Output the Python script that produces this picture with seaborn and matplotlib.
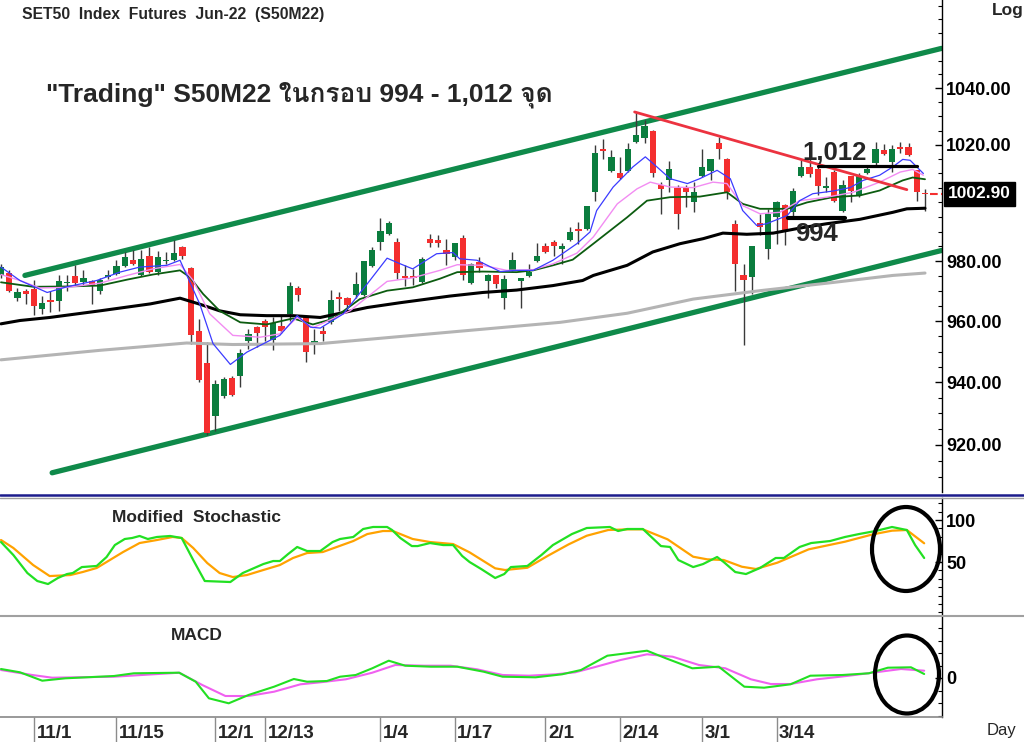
import numpy as np
import matplotlib
matplotlib.use("Agg")
import matplotlib.pyplot as plt
import matplotlib.transforms as mtransforms
import seaborn as sns
from matplotlib import font_manager, ft2font
from matplotlib.lines import Line2D
from matplotlib.patches import Ellipse
from matplotlib.ticker import FixedLocator, FixedFormatter, NullFormatter

# === Candles S50M22 (open, high, low, close), one per trading day ===
opens = [975.2, 976.0, 967.8, 970.1, 970.7, 964.0, 967.0, 966.7, 972.6, 975.1,
         972.9, 973.5, 969.9, 974.8, 975.8, 978.3, 980.3, 975.2, 981.7, 976.3,
         980.0, 980.3, 984.8, 977.6, 956.9, 946.2, 929.2, 935.7, 941.5, 942.0,
         953.6, 958.0, 959.9, 953.9, 958.3, 962.4, 971.0, 961.2, 952.8, 956.6,
         959.8, 967.8, 967.8, 968.7, 968.6, 978.3, 986.5, 989.1, 986.4, 975.1,
         975.1, 972.9, 987.6, 987.3, 983.7, 981.4, 988.0, 972.6, 979.7, 973.5,
         975.2, 967.8, 976.9, 973.3, 974.9, 980.0, 985.2, 986.6, 984.0, 987.0,
         990.8, 990.8, 1003.5, 1018.4, 1010.9, 1010.2, 1010.9, 1021.1, 1022.3, 1024.9,
         1006.1, 1007.9, 1005.1, 1005.3, 1000.0, 1009.0, 1010.9, 1020.5, 1015.1, 992.5,
         975.2, 974.8, 992.9, 984.2, 994.9, 999.2, 996.6, 1009.0, 1012.3, 1011.4,
         1005.1, 1010.5, 997.2, 1009.0, 1002.4, 1010.2, 1013.5, 1018.2, 1014.1, 1019.0,
         1019.1, 1011.1, 1003.0]
highs = [978.9, 976.9, 971.0, 970.7, 973.8, 968.4, 970.1, 975.2, 975.2, 978.6,
         976.9, 973.8, 974.4, 976.9, 980.3, 983.1, 983.7, 983.7, 984.8, 983.4,
         983.1, 987.0, 985.0, 978.0, 960.7, 953.1, 940.6, 941.7, 942.2, 950.9,
         957.5, 958.5, 960.7, 961.2, 961.8, 972.9, 971.8, 961.8, 957.5, 958.5,
         970.4, 969.5, 967.9, 976.3, 980.1, 984.8, 994.7, 993.6, 988.0, 978.6,
         977.5, 981.4, 989.1, 988.7, 987.6, 986.3, 988.7, 979.3, 981.4, 975.7,
         975.5, 975.5, 983.1, 974.5, 979.1, 986.3, 986.1, 987.3, 986.3, 991.5,
         993.2, 998.9, 1019.9, 1021.9, 1018.2, 1015.6, 1020.5, 1031.6, 1028.7, 1025.2,
         1007.0, 1014.4, 1005.9, 1006.1, 1007.0, 1018.4, 1015.1, 1022.6, 1015.3, 994.1,
         979.1, 985.2, 996.1, 997.8, 1000.6, 999.4, 1005.1, 1014.6, 1014.9, 1012.9,
         1008.8, 1011.1, 1007.9, 1009.2, 1010.2, 1012.3, 1021.1, 1020.3, 1019.9, 1021.1,
         1020.7, 1011.3, 1004.7]
lows = [974.5, 969.8, 966.7, 965.8, 962.1, 962.4, 962.9, 963.2, 969.9, 971.8,
        971.8, 965.6, 969.0, 974.1, 975.2, 978.0, 978.7, 975.0, 976.1, 975.2,
        979.1, 980.1, 980.8, 952.6, 940.0, 923.2, 924.3, 935.1, 935.7, 938.4,
        950.9, 951.5, 953.6, 950.6, 956.2, 960.2, 966.7, 946.6, 949.3, 953.6,
        958.9, 963.4, 963.4, 967.8, 968.4, 978.0, 983.7, 988.7, 974.1, 971.8,
        972.1, 972.7, 984.8, 984.8, 978.6, 980.3, 973.8, 972.4, 976.5, 967.8,
        971.0, 964.0, 976.7, 964.3, 974.7, 979.8, 982.9, 981.7, 979.1, 986.8,
        985.9, 990.6, 1000.6, 1014.9, 1010.6, 1008.2, 1010.6, 1020.5, 1020.5, 1008.8,
        996.1, 1003.5, 991.0, 998.3, 996.6, 1008.8, 1007.9, 1015.2, 1001.2, 970.1,
        952.0, 969.0, 988.7, 980.8, 985.9, 985.3, 995.5, 1008.8, 1008.8, 1002.7,
        1003.5, 1000.0, 996.6, 1000.0, 1001.8, 1009.7, 1012.9, 1016.4, 1010.5, 1017.0,
        1016.1, 1000.6, 997.2]
closes = [978.0, 969.9, 969.5, 969.0, 965.1, 966.1, 966.4, 973.5, 973.1, 972.8,
          974.3, 972.1, 973.7, 975.2, 978.3, 981.4, 978.9, 980.8, 976.3, 981.3,
          980.4, 982.7, 981.7, 955.3, 940.6, 923.7, 939.5, 941.1, 935.9, 949.5,
          955.6, 956.0, 958.2, 959.3, 956.9, 971.8, 968.7, 949.8, 953.1, 955.8,
          967.0, 967.4, 965.3, 972.4, 979.9, 983.9, 990.2, 993.1, 976.0, 974.4,
          974.4, 980.6, 986.3, 986.3, 982.5, 986.1, 975.5, 979.1, 977.6, 975.5,
          972.4, 974.1, 980.3, 974.3, 976.5, 981.6, 983.1, 985.1, 985.2, 989.9,
          990.3, 998.6, 1017.0, 1018.0, 1015.8, 1008.6, 1018.5, 1023.4, 1026.6, 1010.2,
          1004.7, 1011.7, 996.1, 1003.5, 1003.5, 1012.1, 1014.9, 1018.7, 1003.5, 979.1,
          973.8, 985.0, 991.5, 996.1, 1000.0, 990.4, 1003.9, 1012.3, 1009.7, 1005.5,
          1005.5, 1000.6, 1006.1, 1003.9, 1009.0, 1011.4, 1018.4, 1016.7, 1018.7, 1018.6,
          1016.4, 1003.5, 1002.9]
last_price = 1002.90

# === Date ticks (trading-day index) ===
date_pos = [4, 14, 26, 32, 46, 55, 66, 75, 85, 94]
date_lab = ["11/1", "11/15", "12/1", "12/13", "1/4", "1/17", "2/1", "2/14", "3/1", "3/14"]

# === Moving averages (day index, price) ===
blue_x = [0, 2.3, 5.6, 8, 11.6, 14.4, 16.8, 20.1, 21.7, 24.1, 25.7, 27.8, 29.8, 32.2, 33.8,
          35.9, 37.5, 38.7, 41.5, 44.4, 46.8, 48.4, 49.9, 52.8, 54.8, 55.6, 57.7, 60.5, 62.5,
          64.5, 66.9, 69.8, 71.4, 72.2, 74.2, 76.6, 78.1, 79.5, 81.1, 83.2, 84.7, 86.8, 88.4,
          89.9, 91.6, 92.8, 95.3, 96.8, 98.4, 100.8, 102.9, 104.5, 106.5, 108.1, 109.3, 110.2, 111.8]
blue_y = [978.0, 973.5, 969.5, 971.4, 973.5, 976.3, 978.0, 978.6, 980.3, 965.6, 952.6, 945.8,
          949.8, 953.1, 955.3, 961.8, 958.0, 957.7, 962.4, 972.4, 981.0, 979.1, 977.4, 982.5,
          982.9, 980.8, 980.3, 976.5, 976.9, 976.9, 980.3, 985.9, 989.9, 997.2, 1005.3, 1012.3,
          1015.8, 1012.3, 1008.2, 1006.5, 1008.2, 1011.1, 1008.2, 997.2, 992.1, 992.7, 995.5,
          1000.6, 1003.0, 1003.9, 1005.1, 1007.6, 1009.4, 1012.3, 1014.9, 1014.6, 1010.0]
pink_x = [0, 2.3, 4.7, 8, 12, 15.3, 18.4, 21.7, 23.3, 25.3, 28.1, 31.4, 33.8, 35.9, 37.8, 42.3,
          46.8, 49.9, 53.2, 55.3, 58.4, 61.3, 64.5, 66.9, 69.8, 71.8, 74.7, 77.1, 78.7, 81.1,
          83.9, 86.3, 88, 89.9, 92, 94.4, 96.8, 100.1, 103.3, 106.5, 109, 110.5, 111.8]
pink_y = [975.5, 973.5, 971.0, 971.2, 972.6, 975.2, 977.4, 978.9, 973.5, 962.4, 955.3, 954.7,
          955.8, 961.2, 957.8, 963.4, 973.2, 974.4, 976.9, 978.8, 978.6, 976.9, 977.1, 979.1,
          982.7, 988.2, 999.5, 1004.7, 1007.0, 1005.3, 1005.1, 1007.0, 1006.5, 998.9, 996.1,
          996.6, 1000.6, 1001.8, 1003.5, 1007.0, 1010.5, 1011.4, 1009.4]
dgreen_x = [0, 3.9, 8, 12, 15.3, 18.4, 21.7, 22.9, 24.5, 26.5, 29, 32.2, 35.4, 37.8, 40.2, 43.5,
            46.8, 49.9, 53.2, 55.3, 58.4, 62.5, 64.5, 66.9, 69.3, 71.8, 75.9, 78.3, 81.1, 84.7,
            88, 89.9, 92, 95.3, 97.7, 100.8, 104.1, 106.5, 109.3, 110.5, 112]
dgreen_y = [972.9, 971.4, 971.5, 971.8, 973.8, 975.5, 976.9, 974.6, 969.0, 963.4, 959.6, 958.9,
            960.9, 958.9, 960.7, 967.3, 970.1, 971.2, 974.1, 976.3, 976.5, 976.3, 976.9, 978.6,
            980.5, 985.9, 994.9, 1000.6, 1001.8, 1002.0, 1003.5, 999.5, 997.8, 997.8, 1000.0,
            1001.8, 1002.4, 1004.1, 1007.6, 1008.6, 1008.0]
black_x = [0, 2.3, 5.9, 12, 18.1, 21.7, 24.1, 26.5, 29, 32.2, 35.4, 38.7, 44.4, 48.4, 54.4, 58.4,
           62.5, 66.9, 70.5, 71.8, 75.9, 79, 82.3, 85.1, 87.5, 90.4, 93.6, 96.8, 100.1, 104.1,
           108.1, 109.8, 112]
black_y = [959.1, 960.2, 961.2, 963.4, 965.7, 967.6, 965.6, 963.4, 962.1, 961.8, 961.8, 961.2,
           964.5, 966.1, 968.3, 969.5, 970.3, 971.8, 973.5, 975.2, 978.6, 983.1, 985.9, 987.6,
           989.5, 989.1, 989.5, 991.2, 992.7, 994.2, 996.6, 997.8, 998.0]
gray_x = [0, 12, 22.5, 28.1, 38.7, 67.8, 75.9, 83.9, 92, 100.1, 108.1, 112]
gray_y = [947.3, 950.4, 952.8, 952.3, 952.6, 959.6, 962.6, 967.3, 970.1, 972.6, 975.2, 976.0]

# === Trend lines drawn on the chart ===
chan_up_x, chan_up_y = [2.9, 114.0], [975.2, 1054.4]
chan_lo_x, chan_lo_y = [6.2, 114.0], [911.2, 983.6]
down_x, down_y = [76.8, 109.8], [1031.6, 1004.4]
res_x, res_y = [99, 111], [1012.5, 1012.5]
sup_x, sup_y = [95.4, 102.3], [994.5, 994.5]

# === Modified Stochastic (%K green, %D orange) ===
k_x = [0, 1.5, 3.2, 4.4, 5.7, 6.9, 8.0, 8.7, 9.8, 11.6, 12.8, 13.8, 15.0, 15.9, 16.8, 17.8,
       18.9, 20.5, 21.9, 23.3, 24.7, 27.8, 29.3, 31.8, 33.0, 33.8, 34.8, 35.9, 37.1, 38.7,
       40.2, 41.1, 42.7, 43.9, 45.1, 46.8, 47.4, 48.4, 49.8, 50.5, 52.0, 53.6, 54.8, 55.9,
       56.8, 58.2, 59.9, 61.0, 61.8, 63.8, 65.5, 66.9, 69.2, 71.0, 73.8, 74.8, 75.9, 77.8,
       80.0, 81.1, 82.1, 83.9, 85.1, 86.8, 87.6, 89.0, 90.3, 92.0, 93.9, 94.9, 96.8, 98.2,
       100.5, 102.3, 104.0, 106.0, 108.0, 109.8, 110.8, 111.9]
k_v = [73.8, 58.3, 36.9, 27.4, 23.8, 31.0, 35.7, 36.9, 44.0, 45.3, 56.0, 70.2, 77.4, 78.6,
       81.0, 77.4, 79.8, 81.0, 78.6, 52.4, 27.4, 26.2, 36.9, 47.6, 51.2, 51.2, 59.5, 67.9,
       63.1, 63.1, 73.8, 77.4, 79.8, 89.3, 91.7, 91.7, 88.1, 78.6, 69.0, 69.0, 72.6, 70.2,
       70.2, 57.2, 50.0, 41.7, 31.0, 35.7, 44.0, 45.3, 58.3, 70.2, 83.3, 90.5, 91.7, 86.9,
       89.3, 89.3, 69.0, 67.9, 52.4, 44.0, 47.6, 56.0, 50.0, 38.1, 35.7, 42.9, 54.8, 54.8,
       67.9, 72.6, 75.0, 79.8, 83.3, 86.9, 91.7, 88.1, 70.2, 54.8]
d_x = [0, 1.5, 3.9, 5.9, 8.4, 9.9, 11.6, 13.2, 14.8, 16.8, 18.9, 20.8, 21.9, 23.3, 25.0, 26.5,
       28.1, 29.8, 31.8, 33.8, 35.4, 37.1, 39.0, 40.7, 42.7, 44.4, 46.3, 47.5, 49.9, 52.0,
       54.8, 56.8, 59.9, 61.1, 63.8, 66.3, 68.8, 71.0, 73.6, 76.1, 77.8, 80.8, 83.9, 85.6,
       87.6, 89.8, 91.5, 94.1, 97.9, 102.3, 105.7, 108.0, 109.8, 111.9]
d_v = [76.2, 66.7, 46.4, 33.3, 34.5, 38.1, 42.9, 52.4, 61.9, 72.6, 76.2, 79.8, 78.6, 66.7,
       48.8, 36.9, 32.1, 34.5, 40.5, 46.4, 54.8, 60.7, 61.9, 67.9, 75.0, 83.3, 86.9, 86.9,
       77.4, 73.8, 71.4, 61.5, 42.5, 40.5, 43.2, 57.5, 71.0, 81.3, 88.1, 88.9, 88.9, 77.0,
       56.3, 53.2, 52.4, 44.4, 41.7, 49.2, 65.1, 74.2, 83.0, 87.3, 88.1, 72.3]

# === MACD (green) and signal (magenta) ===
macd_x = [0, 2.3, 5.0, 7.8, 13.7, 16.1, 21.6, 23.6, 25.2, 27.6, 30.0, 33.1, 35.5, 37.1, 39.5,
          41.1, 43.0, 45.0, 47.0, 49.0, 52.1, 55.3, 58.5, 60.8, 64.8, 68.0, 70.3, 73.5, 78.3,
          80.6, 83.8, 87.0, 90.1, 92.5, 95.7, 98.1, 102.0, 105.2, 107.5, 110.3, 111.9]
macd_v = [1.8, 1.14, -0.54, -0.06, 0.4, 0.94, 1.06, -0.74, -4.06, -5.06, -3.4, -1.74, -0.2,
          -0.74, -0.6, 0.26, 0.6, 1.94, 3.46, 2.46, 2.26, 2.26, 1.26, 0.26, 0.14, 0.74, 1.6,
          4.46, 5.46, 3.94, 1.94, 2.26, -1.74, -1.94, -1.26, 0.46, 0.6, 0.94, 2.06, 2.14, 0.8]
sig_x = [0, 3.8, 6.2, 13.7, 21.6, 24.4, 27.2, 30.0, 33.1, 36.3, 38.7, 41.8, 45.0, 47.8, 51.3,
         54.5, 57.7, 60.8, 64.0, 67.2, 69.6, 71.9, 75.1, 78.3, 81.4, 84.6, 87.8, 90.9, 93.3,
         95.7, 98.9, 102.8, 106.0, 109.1, 111.9]
sig_v = [1.6, 0.6, 0.06, 0.26, 1.06, -1.4, -3.6, -3.6, -2.74, -1.26, -0.86, -0.26, 1.06, 2.6,
         2.46, 2.46, 1.74, 0.6, 0.46, 0.74, 1.14, 2.14, 3.6, 4.74, 4.26, 2.6, 1.94, -0.26,
         -1.2, -1.2, -0.26, 0.46, 1.14, 1.8, 1.46]

price_ticks = [920, 940, 960, 980, 1020, 1040]

# === Estilo ===
sns.set_theme(style="white")

# procura uma fonte com glifos tailandeses
thai_font = None
for f in font_manager.fontManager.ttflist:
    if "CJK" in f.name:
        continue
    try:
        if 0x0E01 in ft2font.FT2Font(f.fname).get_charmap():
            thai_font = f.name
            break
    except Exception:
        pass
plt.rcParams["font.family"] = ["Liberation Sans"] + ([thai_font] if thai_font else []) + ["DejaVu Sans"]
plt.rcParams["font.weight"] = "bold"
plt.rcParams["axes.unicode_minus"] = False

GREEN_C = "#0b7d3e"
RED_C = "#f42f2f"
W, H = 1024, 742

fig = plt.figure(figsize=(W / 100, H / 100), dpi=100)
fig.patch.set_facecolor("white")


def panel(top, bottom):
    return [0, 1 - bottom / H, 942 / W, (bottom - top) / H]


ax1 = fig.add_axes(panel(0, 492))
ax2 = fig.add_axes(panel(498, 615))
ax3 = fig.add_axes(panel(617, 717))

for ax in (ax1, ax2, ax3):
    ax.set_facecolor("white")
    ax.grid(False)
    for s in ("left", "top", "bottom"):
        ax.spines[s].set_visible(False)
    ax.spines["right"].set_color("black")
    ax.spines["right"].set_linewidth(1)
    ax.yaxis.tick_right()
    ax.tick_params(axis="y", which="both", direction="in", colors="black",
                   labelsize=13, pad=3, left=False, right=True)
    ax.tick_params(axis="y", which="major", length=5, width=1)
    ax.tick_params(axis="y", which="minor", length=3, width=0.8)

# === Painel principal: candles ===
x = np.arange(len(opens))
o, hi, lo, c = map(np.array, (opens, highs, lows, closes))
cols = np.where(c >= o, GREEN_C, RED_C)
ax1.vlines(x, lo, hi, color="#3a3a3a", lw=1, zorder=2)
ax1.bar(x, np.maximum(np.abs(c - o), 0.5), bottom=np.minimum(o, c), width=0.75,
        color=cols, linewidth=0, zorder=3)

# canal de alta
sns.lineplot(x=chan_up_x, y=chan_up_y, ax=ax1, color="#0f8a4a", linewidth=3.8, zorder=1)
sns.lineplot(x=chan_lo_x, y=chan_lo_y, ax=ax1, color="#0f8a4a", linewidth=3.8, zorder=1)

# medias moveis
sns.lineplot(x=gray_x, y=gray_y, ax=ax1, color="#b4b4b4", linewidth=2.2, zorder=4)
sns.lineplot(x=black_x, y=black_y, ax=ax1, color="black", linewidth=2.2, zorder=4)
sns.lineplot(x=dgreen_x, y=dgreen_y, ax=ax1, color="#0c5c10", linewidth=1.3, zorder=4)
sns.lineplot(x=pink_x, y=pink_y, ax=ax1, color="#f28cf2", linewidth=1.0, zorder=4)
sns.lineplot(x=blue_x, y=blue_y, ax=ax1, color="#3b3bff", linewidth=0.9, zorder=4)

# linhas de tendencia / suporte / resistencia
sns.lineplot(x=down_x, y=down_y, ax=ax1, color="#ec3340", linewidth=2.0, zorder=5)
sns.lineplot(x=res_x, y=res_y, ax=ax1, color="black", linewidth=2.3, zorder=5)
sns.lineplot(x=sup_x, y=sup_y, ax=ax1, color="black", linewidth=3.0, zorder=5)
ax1.plot([112.6, 114.0], [last_price, last_price], color=RED_C, ls="--", lw=1.5,
         clip_on=False, zorder=5)

ax1.text(101.0, 1017.1, "1,012", fontsize=18.5, ha="center", va="center", zorder=6)
ax1.text(98.8, 989.1, "994", fontsize=18.5, ha="center", va="center", zorder=6)

ax1.set_yscale("log")
ax1.set_ylim(905.2, 1072.1)
ax1.set_xlim(-0.12, 114.06)
ax1.set_xticks([])
ax1.yaxis.set_major_locator(FixedLocator(price_ticks))
ax1.yaxis.set_major_formatter(FixedFormatter([f"{t:.2f}" for t in price_ticks]))
ax1.yaxis.set_minor_locator(FixedLocator(np.arange(910, 1071, 5)))
ax1.yaxis.set_minor_formatter(NullFormatter())
ax1.set_xlabel("")
ax1.set_ylabel("")

trans1 = mtransforms.blended_transform_factory(ax1.transAxes, ax1.transData)
ax1.text(1.0062, last_price, f"{last_price:.2f}", transform=trans1, color="white",
         fontsize=12.5, ha="left", va="center", clip_on=False,
         bbox=dict(boxstyle="square,pad=0.25", fc="black", ec="black"))

# === Modified Stochastic ===
sns.lineplot(x=d_x, y=d_v, ax=ax2, color="#ffa200", linewidth=1.6)
sns.lineplot(x=k_x, y=k_v, ax=ax2, color="#22e022", linewidth=1.6)
ax2.set_xlim(-0.12, 114.06)
ax2.set_ylim(-13.05, 126.2)
ax2.set_xticks([])
ax2.set_yticks([50, 100])
ax2.set_yticklabels(["50", "100"])
ax2.yaxis.set_minor_locator(FixedLocator(np.arange(-10, 125, 10)))
ax2.set_xlabel("")
ax2.set_ylabel("")

# === MACD ===
sns.lineplot(x=sig_x, y=sig_v, ax=ax3, color="#f060f0", linewidth=1.5)
sns.lineplot(x=macd_x, y=macd_v, ax=ax3, color="#22e022", linewidth=1.5)
ax3.set_xlim(-0.12, 114.06)
ax3.set_ylim(-7.8, 12.2)
ax3.set_yticks([0])
ax3.set_yticklabels(["0"])
ax3.yaxis.set_minor_locator(FixedLocator(np.arange(-7.5, 12.5, 2.5)))
ax3.spines["bottom"].set_visible(True)
ax3.spines["bottom"].set_color("#8c8c8c")
ax3.set_xticks(date_pos)
ax3.tick_params(axis="x", which="major", bottom=True, direction="out", length=18,
                width=1, color="#8c8c8c", labelbottom=False)
ax3.set_xlabel("")
ax3.set_ylabel("")
trans3 = mtransforms.blended_transform_factory(ax3.transData, ax3.transAxes)
for p, lab in zip(date_pos, date_lab):
    ax3.text(p + 0.3, -0.17, lab, transform=trans3, fontsize=13.5, ha="left",
             va="center", clip_on=False)

# === Separadores e anotacoes ===
fig.add_artist(Line2D([0, 1], [1 - 494.5 / H] * 2, transform=fig.transFigure,
                      color="#1c1c8c", lw=1.8))
fig.add_artist(Line2D([0, 1], [1 - 498 / H] * 2, transform=fig.transFigure,
                      color="#a0a0a0", lw=1))
fig.add_artist(Line2D([0, 1], [1 - 616 / H] * 2, transform=fig.transFigure,
                      color="#a0a0a0", lw=1.5))

fig.add_artist(Ellipse((906 / W, 1 - 549 / H), 68 / W, 84 / H, transform=fig.transFigure,
                       fill=False, ec="black", lw=3))
fig.add_artist(Ellipse((907 / W, 1 - 674.5 / H), 64 / W, 78 / H, transform=fig.transFigure,
                       fill=False, ec="black", lw=3))

fig.text(22 / W, 1 - 19 / H, "SET50  Index  Futures  Jun-22  (S50M22)", fontsize=11.3,
         ha="left", va="baseline")
fig.text(46 / W, 1 - 101 / H, "\"Trading\" S50M22 ในกรอบ 994 - 1,012 จุด", fontsize=19,
         ha="left", va="baseline")
fig.text(112 / W, 1 - 521.7 / H, "Modified  Stochastic", fontsize=12.5, ha="left",
         va="baseline")
fig.text(171 / W, 1 - 640 / H, "MACD", fontsize=12.5, ha="left", va="baseline")
fig.text(1008 / W, 1 - 11 / H, "Log", fontsize=12.5, ha="center", va="center")
fig.text(1001 / W, 1 - 730 / H, "Day", fontsize=12, fontweight="normal", ha="center",
         va="center")

fig.savefig("out.png", dpi=100, facecolor="white")
